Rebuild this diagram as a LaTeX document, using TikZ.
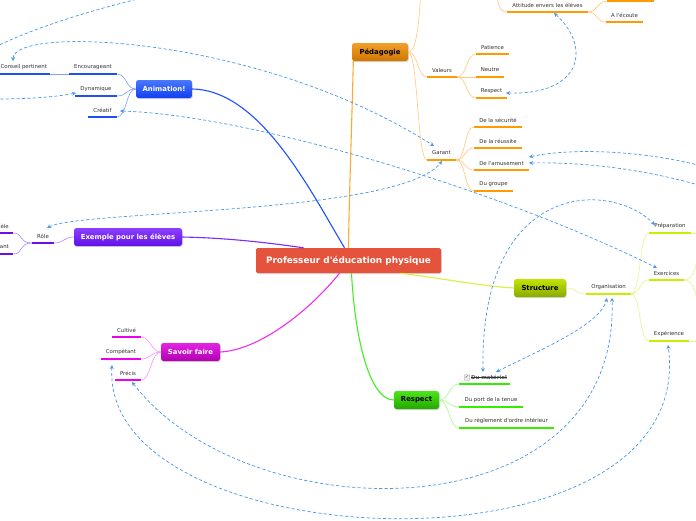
\documentclass[tikz,border=0pt]{standalone}
\usepackage{fontspec}
\setmainfont{DejaVu Sans}
\newfontfamily\dv{DejaVu Sans}
\usetikzlibrary{shadows,arrows.meta}
\definecolor{relblue}{HTML}{4A98E8}
\definecolor{txtgray}{HTML}{333333}
\definecolor{centerred}{HTML}{E5533D}
\definecolor{pedU}{HTML}{FF9A00}\definecolor{pedL}{HTML}{FFC97A}\definecolor{pedM}{HTML}{FFAA30}
\definecolor{pedT}{HTML}{F2A02A}\definecolor{pedB}{HTML}{D07600}
\definecolor{aniU}{HTML}{1F50F0}\definecolor{aniL}{HTML}{7FA0FF}\definecolor{aniM}{HTML}{1F50FF}
\definecolor{aniT}{HTML}{4A78FF}\definecolor{aniB}{HTML}{1040EE}
\definecolor{exU}{HTML}{6A10E0}\definecolor{exL}{HTML}{B488FF}\definecolor{exM}{HTML}{7A2AFF}
\definecolor{exT}{HTML}{8C40FF}\definecolor{exB}{HTML}{6010E6}
\definecolor{strU}{HTML}{C8EE00}\definecolor{strL}{HTML}{E6F58A}\definecolor{strM}{HTML}{D8F040}
\definecolor{strT}{HTML}{C4E400}\definecolor{strB}{HTML}{88AA00}
\definecolor{sfU}{HTML}{EE00EE}\definecolor{sfL}{HTML}{FF90FF}\definecolor{sfM}{HTML}{EE30EE}
\definecolor{sfT}{HTML}{E424E4}\definecolor{sfB}{HTML}{B000B0}
\definecolor{reU}{HTML}{33EE00}\definecolor{reL}{HTML}{A0FF80}\definecolor{reM}{HTML}{44EE22}
\definecolor{reT}{HTML}{4CE41A}\definecolor{reB}{HTML}{22A800}
\tikzset{
  topicbox/.style={rounded corners=2.5pt, inner sep=0pt, minimum height=18pt,
    font=\dv\fontsize{6.9}{8}\selectfont\bfseries,
    drop shadow={opacity=0.3,shadow xshift=0.8pt,shadow yshift=-1pt}},
  leaftext/.style={font=\dv\fontsize{5.4}{6}\selectfont, text=txtgray, inner sep=0pt},
  rel/.style={draw=relblue, dash pattern=on 3.2pt off 2.2pt, line width=0.7pt},
  relboth/.style={rel, {Stealth[length=4pt,width=4pt]}-{Stealth[length=4pt,width=4pt]}},
  relend/.style={rel, -{Stealth[length=4pt,width=4pt]}},
  relstart/.style={rel, {Stealth[length=4pt,width=4pt]}-},
  sub/.style={line width=0.6pt},
  mainline/.style={line width=1.1pt},
}
\newcommand\leaf[6]{%
  \coordinate (#1-l) at (#2,#4);
  \coordinate (#1-r) at (#3,#4);
  \draw[#5, line width=2.4pt] (#1-l) -- (#1-r);
  \node[leaftext] (#1) at ({(#2+#3)/2},{#4-7}) {#6};}
\newcommand\rconn[3]{\draw[sub,#1] (#2) .. controls +(10,0) and +(-10,0) .. (#3);}
\newcommand\lconn[3]{\draw[sub,#1] (#2) .. controls +(-10,0) and +(10,0) .. (#3);}
\begin{document}
\begin{tikzpicture}[x=1pt,y=-1pt]
\useasboundingbox (0,0) rectangle (696,520);
\fill[white] (0,0) rectangle (696,520);
\clip (0,0) rectangle (696,520);

% central node
\node[fill=centerred, text=white, font=\dv\fontsize{8.9}{10}\selectfont\bfseries,
  minimum width=185pt, minimum height=25pt, inner sep=0pt, rounded corners=1.5pt,
  drop shadow={opacity=0.3,shadow xshift=0.8pt,shadow yshift=-1pt}]
  (center) at (348.5,260.5) {Professeur d'éducation physique};

% topics
\node[topicbox, top color=pedT, bottom color=pedB, text=black, minimum width=56pt] (ped) at (380,52) {Pédagogie};
\node[topicbox, top color=aniT, bottom color=aniB, text=white, minimum width=56pt] (ani) at (164,89) {Animation!};
\node[topicbox, top color=exT, bottom color=exB, text=white, minimum width=108pt] (ex) at (128,237) {Exemple pour les élèves};
\node[topicbox, top color=strT, bottom color=strB, text=black, minimum width=52pt] (str) at (540,288) {Structure};
\node[topicbox, top color=sfT, bottom color=sfB, text=white, minimum width=59pt] (sf) at (190.5,352) {Savoir faire};
\node[topicbox, top color=reT, bottom color=reB, text=black, minimum width=45pt] (re) at (416.5,400) {Respect};

% main connectors
\draw[mainline, aniM] (ani.east) .. controls (260,90) and (310,190) .. ([xshift=-4pt]center.north);
\draw[mainline, pedM] ([xshift=1.5pt]ped.south west) .. controls (352,120) and (349,200) .. (center.north);
\draw[mainline, exM] (ex.east) .. controls (230,238) and (270,243) .. ([xshift=-45pt]center.north);
\draw[mainline, strM] ([xshift=52pt]center.south) .. controls (440,278) and (480,286) .. (str.west);
\draw[mainline, sfM] (sf.east) .. controls (260,350) and (310,310) .. ([xshift=-9pt]center.south);
\draw[mainline, reM] ([xshift=3pt]center.south) .. controls (355,340) and (370,400) .. (re.west);

% ---- Pedagogie branch
\leaf{attitude}{507}{588}{12}{pedU}{Attitude envers les élèves}
\coordinate (topchild-l) at (607,1.2);
\coordinate (topchild-r) at (654,1.2);
\draw[pedU, line width=2.4pt] (topchild-l) -- (topchild-r);
\leaf{ecoute}{606}{643}{22}{pedU}{A l'écoute}
\leaf{valeurs}{427}{457}{77}{pedU}{Valeurs}
\leaf{patience}{476}{509}{54}{pedU}{Patience}
\leaf{neutre}{476}{504}{77}{pedU}{Neutre}
\leaf{respectv}{476}{507}{98}{pedU}{Respect}
\leaf{garant}{427}{456}{160}{pedU}{Garant}
\leaf{securite}{474}{522}{127}{pedU}{De la sécurité}
\leaf{reussite}{474}{522}{148}{pedU}{De la réussite}
\leaf{amusement}{474}{529}{170}{pedU}{De l'amusement}
\leaf{groupe}{474}{513}{191}{pedU}{Du groupe}
\coordinate (pedtopoff) at (421,-6);
\coordinate (attpar) at (494,-8);
\draw[sub,pedL] (ped.east) .. controls (418,52) and (419,12) .. (pedtopoff);
\draw[sub,pedL] (attpar) .. controls (500,0) and (497,12) .. (attitude-l);
\rconn{pedL}{ped.east}{valeurs-l}
\rconn{pedL}{ped.east}{garant-l}
\rconn{pedL}{valeurs-r}{patience-l}
\rconn{pedL}{valeurs-r}{neutre-l}
\rconn{pedL}{valeurs-r}{respectv-l}
\rconn{pedL}{garant-r}{securite-l}
\rconn{pedL}{garant-r}{reussite-l}
\rconn{pedL}{garant-r}{amusement-l}
\rconn{pedL}{garant-r}{groupe-l}
\rconn{pedL}{attitude-r}{topchild-l}
\rconn{pedL}{attitude-r}{ecoute-l}

% ---- Animation branch
\coordinate (conseil-l) at (-2,74); \coordinate (conseil-r) at (50,74);
\draw[aniU, line width=2.4pt] (conseil-l) -- (conseil-r);
\node[leaftext, anchor=west] (conseil) at (0.5,67) {Conseil pertinent};
\leaf{encourageant}{69}{117}{74}{aniU}{Encourageant}
\leaf{dynamique}{75}{117}{96}{aniU}{Dynamique}
\leaf{creatif}{88}{117}{117}{aniU}{Créatif}
\lconn{aniL}{ani.west}{encourageant-r}
\lconn{aniL}{ani.west}{dynamique-r}
\lconn{aniL}{ani.west}{creatif-r}
\draw[sub,aniL] (encourageant-l) -- (conseil-r);

% ---- Exemple branch
\leaf{role}{32}{54}{243}{exU}{Rôle}
\coordinate (modele-l) at (-5,233); \coordinate (modele-r) at (13,233);
\coordinate (ant-l) at (-5,254); \coordinate (ant-r) at (13,254);
\draw[exU, line width=2.4pt] (modele-l) -- (modele-r);
\draw[exU, line width=2.4pt] (ant-l) -- (ant-r);
\node[leaftext, anchor=east] (modele) at (9,226) {èle};
\node[leaftext, anchor=east] (ant) at (9,247) {ant};
\lconn{exL}{ex.west}{role-r}
\draw[sub,exL] (role-l) .. controls (18,243) and (24,233) .. (modele-r);
\draw[sub,exL] (role-l) .. controls (18,243) and (24,254) .. (ant-r);

% ---- Structure branch
\leaf{organisation}{586}{631}{294}{strU}{Organisation}
\leaf{preparation}{649}{691}{233}{strU}{Préparation}
\leaf{exercices}{649}{684}{280}{strU}{Exercices}
\leaf{experience}{649}{689}{341}{strU}{Expérience}
\rconn{strL}{str.east}{organisation-l}
\rconn{strL}{organisation-r}{preparation-l}
\rconn{strL}{organisation-r}{exercices-l}
\rconn{strL}{organisation-r}{experience-l}
\coordinate (prepoff) at (702,233);
\coordinate (expoff) at (702,341);
\coordinate (exoffa) at (702,252);
\coordinate (exoffb) at (702,308);
\draw[sub,strL] (preparation-r) -- (prepoff);
\draw[sub,strL] (experience-r) -- (expoff);
\draw[sub,strL] (exercices-r) .. controls (696,280) and (694,262) .. (exoffa);
\draw[sub,strL] (exercices-r) .. controls (696,280) and (694,298) .. (exoffb);

% ---- Savoir faire branch
\leaf{cultive}{112}{141}{337}{sfU}{Cultivé}
\leaf{competant}{101}{141}{359}{sfU}{Compétant}
\leaf{precis}{115}{141}{380}{sfU}{Précis}
\lconn{sfL}{sf.west}{cultive-r}
\lconn{sfL}{sf.west}{competant-r}
\lconn{sfL}{sf.west}{precis-r}

% ---- Respect branch
\coordinate (materiel-l) at (459,384); \coordinate (materiel-r) at (510,384);
\draw[reU, line width=2.4pt] (materiel-l) -- (materiel-r);
\node[draw=gray!70, fill=gray!15, rounded corners=0.5pt, minimum size=5.5pt, inner sep=0pt,
  font=\dv\fontsize{4.5}{5}\selectfont, text=txtgray] (chk) at (467,377.5) {✓};
\node[leaftext, font=\dv\fontsize{5.4}{6}\selectfont\bfseries, text=txtgray!80] (materiel) at (489,377.5) {Du matériel};
\draw[txtgray, line width=0.4pt] (materiel.west) -- (materiel.east);
\leaf{tenue}{459}{523}{407}{reU}{Du port de la tenue}
\leaf{reglement}{459}{554}{428}{reU}{Du règlement d'ordre intérieur}
\rconn{reL}{re.east}{materiel-l}
\rconn{reL}{re.east}{tenue-l}
\rconn{reL}{re.east}{reglement-l}

% ---- relations (dashed)
\coordinate (offA) at (-5,47); \coordinate (offB) at (150,-4);
\draw[rel] (offA) .. controls (40,25) and (100,8) .. (offB);
\coordinate (conseiltip) at (13,61);
\coordinate (garanttipA) at (434,146);
\draw[relboth] (conseiltip) .. controls (13,25) and (260,35) .. (garanttipA);
\coordinate (dynoff) at (-5,99);
\coordinate (dyntip) at (76,93);
\draw[relend] (dynoff) .. controls (30,99) and (55,97) .. (dyntip);
\coordinate (creatiftip) at (120,111);
\coordinate (exercicestip) at (657,268);
\draw[relboth] (creatiftip) .. controls (250,115) and (500,190) .. (exercicestip);
\coordinate (roletip) at (47,228);
\coordinate (garanttipB) at (442,161);
\draw[relboth] (roletip) .. controls (80,210) and (400,215) .. (garanttipB);
\coordinate (materieltipA) at (483,372);
\coordinate (preparationtip) at (655,225);
\draw[relboth] (materieltipA) .. controls (480,180) and (610,180) .. (preparationtip);
\coordinate (materieltipB) at (496,372);
\coordinate (orgtipA) at (607,298);
\draw[relboth] (materieltipB) .. controls (540,350) and (600,325) .. (orgtipA);
\coordinate (precistip) at (132,382);
\coordinate (orgtipB) at (612,298);
\draw[relboth] (precistip) .. controls (250,535) and (620,535) .. (orgtipB);
\coordinate (competanttip) at (112,365);
\coordinate (experiencetip) at (668,345);
\draw[relboth] (competanttip) .. controls (100,560) and (700,585) .. (experiencetip);
\coordinate (amustipA) at (529,157); \coordinate (amusoffA) at (702,166);
\coordinate (amustipB) at (529,163); \coordinate (amusoffB) at (702,186);
\draw[relstart] (amustipA) .. controls (570,148) and (640,150) .. (amusoffA);
\draw[relstart] (amustipB) .. controls (580,162) and (640,168) .. (amusoffB);
\coordinate (attitudetip) at (554,13);
\coordinate (respectvtip) at (506,93);
\draw[relboth] (attitudetip) .. controls (590,45) and (585,95) .. (respectvtip);
\end{tikzpicture}
\end{document}
